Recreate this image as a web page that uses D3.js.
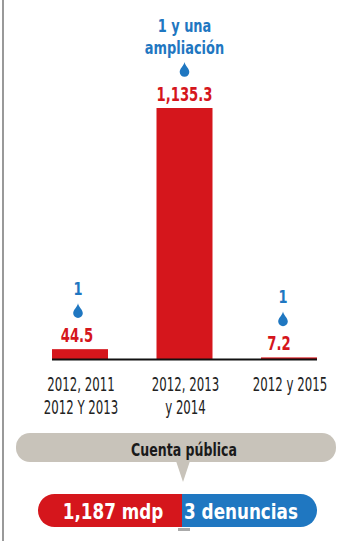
<!DOCTYPE html>
<html>
<head>
<meta charset="utf-8">
<script src="https://cdn.jsdelivr.net/npm/d3@7"></script>
<style>
  body { margin: 0; background: #fff; }
  svg { display: block; }
</style>
</head>
<body>
<div id="chart"></div>
<script>
// Data
var categories = [["2012, 2011", "2012 Y 2013"], ["2012, 2013", "y 2014"], ["2012 y 2015"]];
var amounts = [44.5, 1135.3, 7.2];
var amountLabels = ["44.5", "1,135.3", "7.2"];
var complaints = [["1"], ["1 y una", "ampliación"], ["1"]];
var totalLabels = ["1,187 mdp", "3 denuncias"];
var bannerLabel = "Cuenta pública";

var WIDTH = 342, HEIGHT = 541;
var RED = "#d5161c", BLUE = "#1f77c1", FONT = "'DejaVu Sans', sans-serif";

var svg = d3.select("#chart").append("svg")
    .attr("width", WIDTH).attr("height", HEIGHT);

// Condensed look: draw text then squeeze it horizontally.
var squeezedText = function squeezedText(parent, str, cx, cy, opts) {
    var g = parent.append("g")
        .attr("transform", "translate(" + cx + "," + cy + ") scale(" + opts.sx + ",1)");
    g.append("text")
        .attr("text-anchor", "middle")
        .style("font-family", FONT)
        .style("font-weight", opts.bold ? "bold" : "normal")
        .style("font-size", opts.size + "px")
        .style("fill", opts.color)
        .text(str);
    return g;
};

// left page edge
svg.append("line").attr("x1", 3).attr("x2", 3).attr("y1", 0).attr("y2", HEIGHT)
    .style("stroke", "#777").style("stroke-width", 1.5);

var x = d3.scalePoint().domain(d3.range(amounts.length)).range([80, 289]);
var barW = 56;
var y = d3.scaleLinear().domain([0, 1135.3]).range([359, 108]);

// bars
svg.selectAll("rect.bar").data(amounts).enter().append("rect")
    .attr("class", "bar")
    .attr("x", function(d, i) { return x(i) - barW / 2; })
    .attr("width", barW)
    .attr("y", function(d) { return y(d); })
    .attr("height", function(d) { return y(0) - y(d); })
    .style("fill", RED);

// baseline
svg.append("line").attr("x1", 52).attr("x2", 317).attr("y1", y(0) + 0.5).attr("y2", y(0) + 0.5)
    .style("stroke", "#111").style("stroke-width", 2);

// value labels (the small one sits a bit left of its bar)
var labelShift = [-3, 0, -10];
amountLabels.forEach(function(d, i) {
    squeezedText(svg, d, x(i) + labelShift[i], y(amounts[i]) - 7,
        {size: 20, sx: 0.66, bold: true, color: RED});
});

// blue drop pins with complaint counts
var pinShift = [-2, 0, -6];
complaints.forEach(function(lines, i) {
    var cx = x(i) + pinShift[i];
    var cy = y(amounts[i]) - 36;
    svg.append("path")
        .attr("transform", "translate(" + cx + "," + cy + ")")
        .attr("d", "M0,-10 C0.8,-6 4.8,-3.5 4.8,0 A4.8,4.8 0 1,1 -4.8,0 C-4.8,-3.5 -0.8,-6 0,-10Z")
        .style("fill", BLUE);
    lines.forEach(function(t, j) {
        squeezedText(svg, t, cx, cy - 18 - (lines.length - 1 - j) * 22,
            {size: 18, sx: 0.72, bold: true, color: BLUE});
    });
});

// category labels
categories.forEach(function(lines, i) {
    lines.forEach(function(t, j) {
        squeezedText(svg, t, x(i) + 1, 391 + j * 23,
            {size: 19, sx: 0.62, bold: false, color: "#222"});
    });
});

// gray banner with pointer
var banner = svg.append("g");
banner.append("rect").attr("x", 16).attr("y", 433).attr("width", 320).attr("height", 29).attr("rx", 14)
    .style("fill", "#c8c3ba");
banner.append("path").attr("d", "M176,461 L183,482 L190,461 Z").style("fill", "#c8c3ba");
squeezedText(banner, bannerLabel, 184, 456, {size: 17, sx: 0.74, bold: true, color: "#1a1a1a"});

// totals pill
var pill = svg.append("g");
var pillX = 38, pillW = 279, pillY = 494, pillH = 33, split = 182;
pill.append("defs").append("clipPath").attr("id", "pillclip")
    .append("rect").attr("x", pillX).attr("y", pillY).attr("width", pillW).attr("height", pillH).attr("rx", 16.5);
pill.append("rect").attr("x", pillX).attr("y", pillY).attr("width", split - pillX).attr("height", pillH)
    .attr("clip-path", "url(#pillclip)").style("fill", RED);
pill.append("rect").attr("x", split).attr("y", pillY).attr("width", pillX + pillW - split).attr("height", pillH)
    .attr("clip-path", "url(#pillclip)").style("fill", BLUE);
var pillCx = [113, 241];
totalLabels.forEach(function(d, i) {
    squeezedText(pill, d, pillCx[i], pillY + 25, {size: 21, sx: 0.8, bold: true, color: "#fff"});
});

// small mark under the pill
svg.append("rect").attr("x", 178).attr("y", 528).attr("width", 12).attr("height", 3).style("fill", "#aaa");
</script>
</body>
</html>
